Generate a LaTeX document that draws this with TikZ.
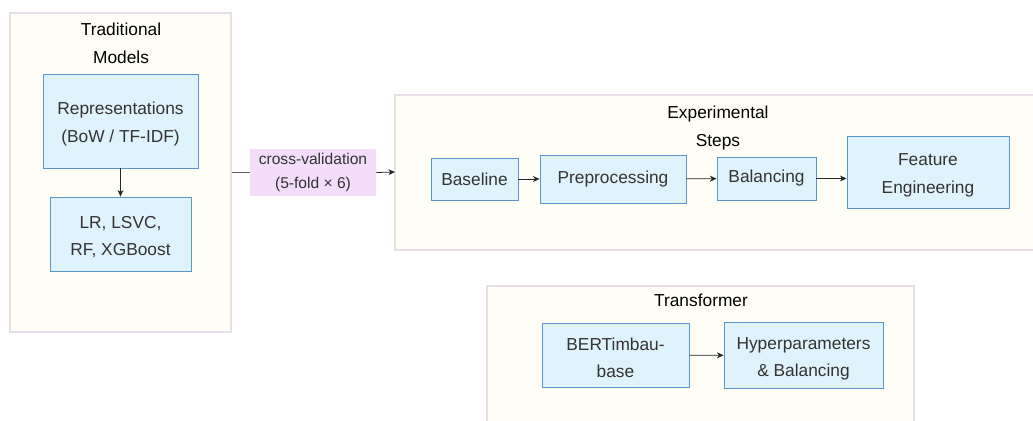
\documentclass[tikz,border=0pt]{standalone}
\usepackage{fontspec}
\setmainfont{Liberation Sans}
\usetikzlibrary{arrows.meta,shadows}
\definecolor{nodefill}{HTML}{DFF3FC}
\definecolor{nodeborder}{HTML}{5A96C8}
\definecolor{clusterfill}{HTML}{FFFEF6}
\definecolor{clusterborder}{HTML}{E8DEE8}
\definecolor{labelfill}{HTML}{F3DDFB}
\definecolor{nodetext}{HTML}{333333}
\newcommand{\tallstrut}{\rule{0pt}{14pt}}
\tikzset{
  stepbox/.style={draw=nodeborder, fill=nodefill, line width=0.7pt, text=nodetext,
    align=center, inner sep=0pt, font=\fontsize{13}{20.5}\selectfont,
    drop shadow={shadow xshift=0.6pt, shadow yshift=-0.6pt, opacity=0.18}},
  cluster/.style={draw=clusterborder, fill=clusterfill, line width=0.8pt},
  ctitle/.style={align=center, font=\fontsize{13}{21}\selectfont, text=black},
  edgelabel/.style={fill=labelfill, align=center, inner sep=0pt, text=nodetext,
    font=\fontsize{11.7}{17.5}\selectfont},
  arr/.style={-{Stealth[length=5pt,width=4.5pt]}, line width=0.6pt, draw=black!85},
}
\begin{document}
\begin{tikzpicture}[x=0.75pt,y=-0.75pt]
\useasboundingbox[fill=white] (0,0) rectangle (1033,421);
\clip (0,0) rectangle (1033,421);
% clusters
\node[cluster, minimum width=165.75pt, minimum height=239.25pt, inner sep=0pt] (trad) at (120.5,172.5) {};
\node[ctitle] (tradtitle) at (121,43) {Traditional\\Models};
\draw[cluster] (395,95) rectangle (1040,250);
\coordinate (expwest) at (395,172);
\node[ctitle] (exptitle) at (718,128) {Experimental\\Steps};
\draw[cluster] (487,286) rectangle (914,430);
\node[ctitle] (trtitle) at (701,300) {Transformer};
% nodes
\node[stepbox, minimum width=116.25pt, minimum height=70.5pt] (rep) at (120.5,121) {\tallstrut Representations\\(BoW / TF-IDF)};
\node[stepbox, minimum width=105.75pt, minimum height=55.5pt] (lr) at (120.5,234) {\tallstrut LR, LSVC,\\RF, XGBoost};
\node[stepbox, minimum width=65.25pt, minimum height=31.5pt] (base) at (474.5,179) {Baseline};
\node[stepbox, minimum width=109.5pt, minimum height=36pt] (pre) at (613,179) {Preprocessing};
\node[stepbox, minimum width=74.25pt, minimum height=32.25pt] (bal) at (766.5,178.5) {Balancing};
\node[stepbox, minimum width=121.5pt, minimum height=54pt] (fe) at (928,172) {\tallstrut Feature\\Engineering};
\node[stepbox, minimum width=110.25pt, minimum height=48pt] (bert) at (615.5,355) {\tallstrut BERTimbau-\\base};
\node[stepbox, minimum width=119.25pt, minimum height=49.5pt] (hyp) at (803.5,355.5) {\tallstrut Hyperparameters\\\& Balancing};
\node[edgelabel, minimum width=94.5pt, minimum height=35.25pt] (cv) at (313,172.5) {cross-validation\\(5-fold × 6)};
% connectors
\draw[arr] (rep) -- (lr);
\draw[line width=0.6pt, draw=black!60] (trad.east) -- (cv.west);
\draw[arr] (cv.east) -- (expwest);
\draw[arr] (base) -- (pre);
\draw[arr] (pre) -- (bal);
\draw[arr] (bal.east) -- (bal.east -| fe.west);
\draw[arr] (bert) -- (hyp);
\end{tikzpicture}
\end{document}
